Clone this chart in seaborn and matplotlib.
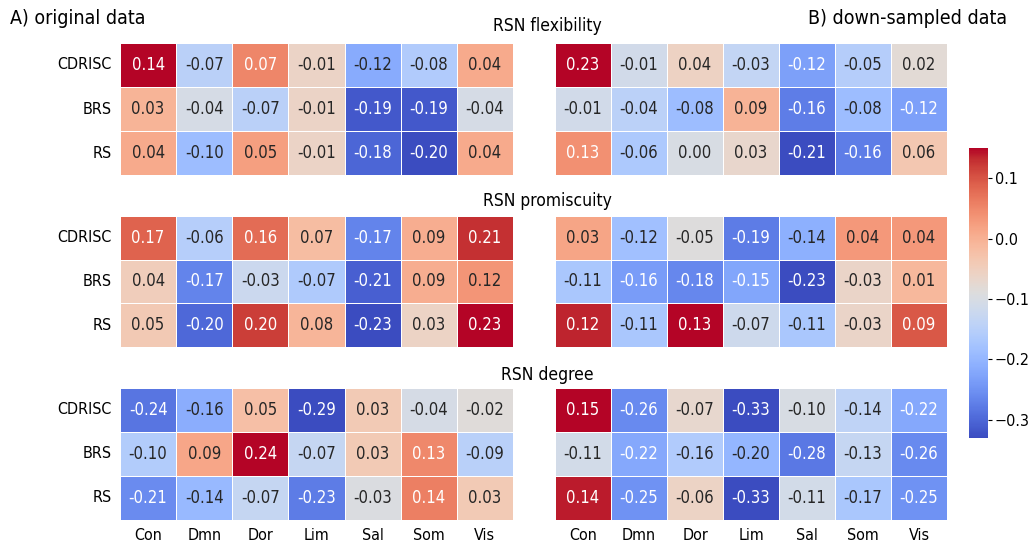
import numpy as np
import pandas as pd
import matplotlib
matplotlib.use("Agg")
import matplotlib.pyplot as plt
import seaborn as sns

networks = ["Con", "Dmn", "Dor", "Lim", "Sal", "Som", "Vis"]
scales = ["CDRISC", "BRS", "RS"]

# original data
flex_orig = [[0.14, -0.07, 0.07, -0.01, -0.12, -0.08, 0.04],
             [0.03, -0.04, -0.07, -0.01, -0.19, -0.19, -0.04],
             [0.04, -0.10, 0.05, -0.01, -0.18, -0.20, 0.04]]
prom_orig = [[0.17, -0.06, 0.16, 0.07, -0.17, 0.09, 0.21],
             [0.04, -0.17, -0.03, -0.07, -0.21, 0.09, 0.12],
             [0.05, -0.20, 0.20, 0.08, -0.23, 0.03, 0.23]]
deg_orig = [[-0.24, -0.16, 0.05, -0.29, 0.03, -0.04, -0.02],
            [-0.10, 0.09, 0.24, -0.07, 0.03, 0.13, -0.09],
            [-0.21, -0.14, -0.07, -0.23, -0.03, 0.14, 0.03]]

# down-sampled data
flex_down = [[0.23, -0.01, 0.04, -0.03, -0.12, -0.05, 0.02],
             [-0.01, -0.04, -0.08, 0.09, -0.16, -0.08, -0.12],
             [0.13, -0.06, 0.00, 0.03, -0.21, -0.16, 0.06]]
prom_down = [[0.03, -0.12, -0.05, -0.19, -0.14, 0.04, 0.04],
             [-0.11, -0.16, -0.18, -0.15, -0.23, -0.03, 0.01],
             [0.12, -0.11, 0.13, -0.07, -0.11, -0.03, 0.09]]
deg_down = [[0.15, -0.26, -0.07, -0.33, -0.10, -0.14, -0.22],
            [-0.11, -0.22, -0.16, -0.20, -0.28, -0.13, -0.26],
            [0.14, -0.25, -0.06, -0.33, -0.11, -0.17, -0.25]]

row_titles = ["RSN flexibility", "RSN promiscuity", "RSN degree"]

plt.rcParams["font.family"] = ["DejaVu Sans"]
plt.rcParams["font.stretch"] = "condensed"

W, H = 1031, 546
fig = plt.figure(figsize=(W / 100, H / 100), dpi=100)

def box(x0, y0, x1, y1):
    return [x0 / W, 1 - y1 / H, (x1 - x0) / W, (y1 - y0) / H]

col_x = [(120, 513), (555, 947)]
row_y = [(43, 175), (216, 347), (388, 520)]
grids = [[flex_orig, flex_down], [prom_orig, prom_down], [deg_orig, deg_down]]

cax = fig.add_axes(box(969, 148, 988, 438))

for r in range(3):
    for c in range(2):
        ax = fig.add_axes(box(col_x[c][0], row_y[r][0], col_x[c][1], row_y[r][1]))
        df = pd.DataFrame(grids[r][c], index=scales, columns=networks)
        last = (r == 2 and c == 1)
        sns.heatmap(df, ax=ax, cmap="coolwarm", annot=True, fmt=".2f",
                    annot_kws={"fontsize": 12}, linewidths=0.6, linecolor="white",
                    cbar=last, cbar_ax=cax if last else None)
        ax.tick_params(axis="both", length=0, labelsize=11.5, pad=6)
        ax.set_yticklabels(scales if c == 0 else [], rotation=0)
        if r < 2:
            ax.set_xticklabels([])
        else:
            ax.set_xticklabels(networks, rotation=0)
        ax.set_xlabel("")
        ax.set_ylabel("")

cax.tick_params(labelsize=11.5, length=3, pad=2)

fig.text(547 / W, 1 - 26 / H, row_titles[0], ha="center", va="center", fontsize=12.5)
fig.text(547 / W, 1 - 201 / H, row_titles[1], ha="center", va="center", fontsize=12.5)
fig.text(547 / W, 1 - 375 / H, row_titles[2], ha="center", va="center", fontsize=12.5)
fig.text(10 / W, 1 - 18 / H, "A) original data", ha="left", va="center", fontsize=14)
fig.text(1007 / W, 1 - 18 / H, "B) down-sampled data", ha="right", va="center", fontsize=14)

fig.savefig("out.png", dpi=100)
